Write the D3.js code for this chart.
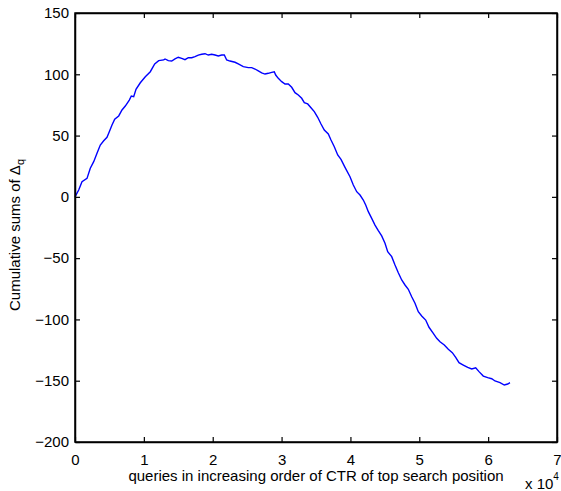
<!DOCTYPE html>
<html>
<head>
<meta charset="utf-8">
<script src="https://cdn.jsdelivr.net/npm/d3@7"></script>
<style>
  body { margin: 0; background: #fff; }
  text { font-family: "Liberation Sans", Arial, sans-serif; fill: #000; }
</style>
</head>
<body>
<script>
'use strict';

// query index (sorted by CTR of top search position)
const queryIndex = [
  0, 537, 1017, 1743, 2222, 2716, 3195, 3674, 4168, 4647, 4981, 5374, 5766, 6347,
  6826, 7305, 7886, 8176, 8525, 8859, 9484, 10210, 10936, 11575, 12156, 12882,
  13071, 13550, 14044, 14523, 15002, 15496, 15975, 16454, 16948, 17428, 17907,
  18401, 18880, 19359, 19853, 20332, 20811, 21305, 21683, 22031, 22510, 23237,
  23716, 24442, 25168, 25662, 26141, 26621, 27114, 27594, 28073, 28567, 28944,
  29147, 29525, 30019, 30498, 30977, 31471, 31951, 32430, 32924, 33301, 33795,
  34274, 34753, 35247, 35727, 36206, 36787, 37179, 37658, 38152, 38631, 39212,
  39938, 40418, 40911, 41391, 41870, 42219, 42597, 43090, 43569, 44048, 44542,
  45021, 45413, 45994, 46474, 46953, 47447, 47926, 48405, 48899, 49378,
  49857, 50351, 50932, 51411, 52036, 52530, 53009, 53634, 54215, 54795, 55289,
  55768, 56393, 57032, 57613, 58194, 58673, 59298, 59937, 60518, 60997, 61723,
  62347, 62841, 63175
];

// cumulative sums of delta_q
const cumSum = [
  0, 5.6, 12.4, 15.1, 23.3, 28.7, 35.5, 42.3, 45.8, 48.6, 53.2, 58.6, 63.3, 66.0,
  70.9, 74.1, 79.0, 82.3, 81.7, 87.8, 93.1, 98.0, 102.1, 108.4, 111.1, 111.7,
  112.5, 111.1, 110.8, 112.5, 113.9, 113.0, 111.9, 113.5, 113.5, 114.4, 115.7,
  116.3, 116.8, 115.7, 116.3, 115.7, 114.9, 115.7, 115.7, 111.7, 110.8, 109.8,
  108.4, 106.2, 105.4, 105.4, 104.3, 102.7, 101.1, 100.2, 100.8, 101.6, 102.1,
  99.4, 96.7, 94.0, 92.1, 92.1, 89.4, 85.0, 83.1, 80.4, 76.8, 75.8,
  72.7, 69.5, 64.9, 59.4, 54.5, 51.3, 46.4, 40.9, 34.2, 30.6, 24.1,
  16.4, 9.7, 4.2, 1.5, -2.6, -6.6, -12.1, -17.5, -23.0, -27.6, -31.9,
  -37.9, -44.7, -48.8, -55.6, -61.9, -67.8, -71.9, -75.4, -81.5, -86.8,
  -93.7, -97.2, -100.5, -106.4, -111.3, -115.4, -118.2, -120.9, -124.4, -127.1, -130.9,
  -135.3, -137.2, -139.1, -140.4, -139.4, -142.6, -146.2, -147.5, -148.4, -150.2, -151.6,
  -153.5, -152.7, -151.6
];

const xTicks = [0, 10000, 20000, 30000, 40000, 50000, 60000, 70000];
const yTicks = [-200, -150, -100, -50, 0, 50, 100, 150];

(function() {
  const width = 561, height = 491;
  const mLeft = 75, mRight = 557, mTop = 13, mBottom = 442;
  const tickLen = 5;

  const svg = d3.select('body').append('svg')
    .attr('width', width)
    .attr('height', height);

  const x = d3.scaleLinear().domain([0, 70000]).range([mLeft, mRight]);
  const y = d3.scaleLinear().domain([-200, 150]).range([mBottom, mTop]);

  // the curve
  const line = d3.line()
    .x((d, i) => x(queryIndex[i]))
    .y(d => y(d));

  svg.append('path')
    .datum(cumSum)
    .attr('d', line)
    .attr('fill', 'none')
    .attr('stroke', '#0000ff')
    .attr('stroke-width', 1.4);

  // axes with inward ticks (matlab style)
  svg.append('g')
    .attr('transform', `translate(0,${mBottom})`)
    .call(d3.axisBottom(x).tickValues(xTicks).tickSize(-tickLen).tickSizeOuter(0)
      .tickPadding(tickLen + 7).tickFormat(d => d / 10000));

  svg.append('g')
    .attr('transform', `translate(${mLeft},0)`)
    .call(d3.axisLeft(y).tickValues(yTicks).tickSize(-tickLen).tickSizeOuter(0)
      .tickPadding(6));

  svg.append('g')
    .attr('transform', `translate(0,${mTop})`)
    .call(d3.axisTop(x).tickValues(xTicks).tickSize(-tickLen).tickSizeOuter(0).tickFormat(''));

  svg.append('g')
    .attr('transform', `translate(${mRight},0)`)
    .call(d3.axisRight(y).tickValues(yTicks).tickSize(-tickLen).tickSizeOuter(0).tickFormat(''));

  svg.selectAll('.domain')
    .style('stroke', '#000').style('stroke-width', '1.5px').style('fill', 'none');
  svg.selectAll('.tick line')
    .style('stroke', '#000').style('stroke-width', '1.2px');
  svg.selectAll('.tick text').style('font-size', '15px').style('fill', '#000');

  // box round the plot area
  svg.append('rect')
    .attr('x', mLeft)
    .attr('y', mTop)
    .attr('width', mRight - mLeft)
    .attr('height', mBottom - mTop)
    .style('fill', 'none')
    .style('stroke', '#000')
    .style('stroke-width', '1.5px');

  // labels
  svg.append('text')
    .attr('x', (mLeft + mRight) / 2)
    .attr('y', 481)
    .attr('text-anchor', 'middle')
    .style('font-size', '15px')
    .text('queries in increasing order of CTR of top search position');

  const ylab = svg.append('text')
    .attr('transform', `translate(20,235) rotate(-90)`)
    .attr('text-anchor', 'middle')
    .style('font-size', '15px');
  ylab.append('tspan').text('Cumulative sums of \u0394');
  ylab.append('tspan').attr('dy', 4).style('font-size', '11px').text('q');

  const expo = svg.append('text')
    .attr('x', 525)
    .attr('y', 489)
    .style('font-size', '15px');
  expo.append('tspan').text('x 10');
  expo.append('tspan').attr('dy', -9).style('font-size', '10px').text('4');
})();
</script>
</body>
</html>
